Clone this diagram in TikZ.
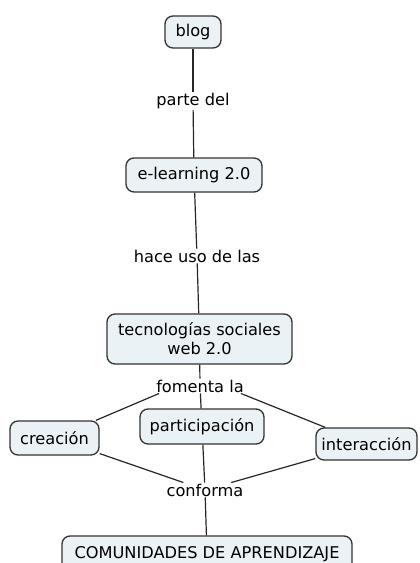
\documentclass[tikz,border=0pt]{standalone}
\usepackage{fontspec}
\setmainfont{DejaVu Sans}
\begin{document}
\begin{tikzpicture}[x=1pt,y=-1pt,
  concept/.style={draw=black!80, line width=1.3pt, fill=boxfill, rounded corners=8pt, inner sep=0pt, align=center, font=\fontsize{16.2}{19}\selectfont},
  linkword/.style={fill=white, inner sep=1pt, font=\fontsize{16.2}{19}\selectfont},
  conn/.style={draw=black!85, line width=1.2pt}]
\definecolor{boxfill}{HTML}{EBF2F5}
\useasboundingbox (0,0) rectangle (420,563);
\node[concept, minimum width=56pt, minimum height=32pt] (blog) at (193,32) {blog};
\node[linkword] (parte) at (193,101) {parte del};
\node[concept, minimum width=136pt, minimum height=34pt] (elearn) at (194,175) {e-learning 2.0};
\node[linkword] (hace) at (197,256) {hace uso de las};
\node[concept, minimum width=185pt, minimum height=50pt] (tec) at (199.5,339) {tecnologías sociales\\web 2.0};
\node[linkword] (fomenta) at (200,386) {fomenta la};
\node[concept, minimum width=89pt, minimum height=34pt] (crea) at (54.5,438) {creación};
\node[concept, minimum width=124pt, minimum height=35pt] (part) at (202,426.5) {participación};
\node[concept, minimum width=101pt, minimum height=32pt] (inter) at (366.5,444) {interacción};
\node[linkword] (conforma) at (205,490) {conforma};
\node[concept, minimum width=290pt, minimum height=36pt] (com) at (207,554) {COMUNIDADES DE APRENDIZAJE};
\draw[conn] (blog) -- (parte);
\draw[conn] (parte) -- (elearn);
\draw[conn] (elearn) -- (hace);
\draw[conn] (hace) -- (tec);
\draw[conn] (tec) -- (fomenta);
\draw[conn] (fomenta.south west) ++(4,0) coordinate (fw) (fw) -- (crea);
\draw[conn] (fomenta) -- (part);
\draw[conn] (fomenta.south east) ++(-4,0) coordinate (fe) (fe) -- (inter);
\draw[conn] (crea) -- (conforma);
\draw[conn] (part) -- (conforma);
\draw[conn] (inter) -- (conforma);
\draw[conn] (conforma) -- (com);
\end{tikzpicture}
\end{document}
